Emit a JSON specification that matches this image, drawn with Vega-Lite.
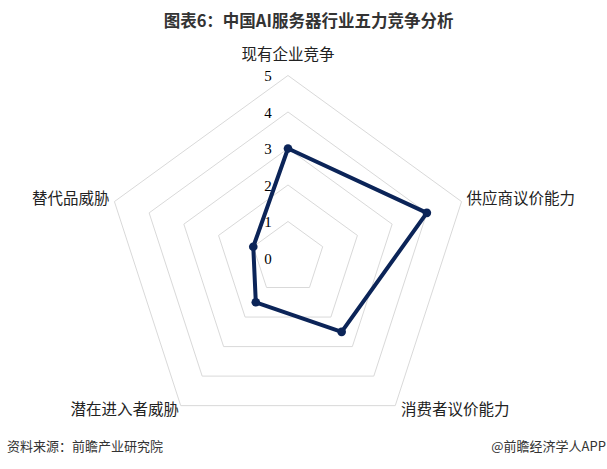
{
  "$schema": "https://vega.github.io/schema/vega-lite/v6.json",
  "width": 607,
  "height": 431,
  "autosize": {"type": "none"},
  "padding": {"top": 38, "left": 0, "right": 0, "bottom": 0},
  "background": "white",
  "title": {"text": "图表6：中国AI服务器行业五力竞争分析", "font": "Noto Sans CJK SC", "fontSize": 16.5, "fontWeight": "bold", "color": "#333333", "anchor": "middle", "dx": 5, "offset": 8},
  "config": {"view": {"stroke": null}},
  "datasets": {
    "forces": [
      {"axis": "现有企业竞争", "i": 0, "value": 3},
      {"axis": "供应商议价能力", "i": 1, "value": 4},
      {"axis": "消费者议价能力", "i": 2, "value": 2.5},
      {"axis": "潜在进入者威胁", "i": 3, "value": 1.5},
      {"axis": "替代品威胁", "i": 4, "value": 1}
    ],
    "grid": [
      {"level": 1, "i": 0}, {"level": 1, "i": 1}, {"level": 1, "i": 2}, {"level": 1, "i": 3}, {"level": 1, "i": 4},
      {"level": 2, "i": 0}, {"level": 2, "i": 1}, {"level": 2, "i": 2}, {"level": 2, "i": 3}, {"level": 2, "i": 4},
      {"level": 3, "i": 0}, {"level": 3, "i": 1}, {"level": 3, "i": 2}, {"level": 3, "i": 3}, {"level": 3, "i": 4},
      {"level": 4, "i": 0}, {"level": 4, "i": 1}, {"level": 4, "i": 2}, {"level": 4, "i": 3}, {"level": 4, "i": 4},
      {"level": 5, "i": 0}, {"level": 5, "i": 1}, {"level": 5, "i": 2}, {"level": 5, "i": 3}, {"level": 5, "i": 4}
    ],
    "ticks": [{"level": 0}, {"level": 1}, {"level": 2}, {"level": 3}, {"level": 4}, {"level": 5}]
  },
  "layer": [
    {
      "data": {"name": "grid"},
      "transform": [
        {"calculate": "datum.level*sin(datum.i*2*PI/5)", "as": "gx"},
        {"calculate": "datum.level*cos(datum.i*2*PI/5)", "as": "gy"}
      ],
      "mark": {"type": "line", "interpolate": "linear-closed", "color": "#d9d9d9", "strokeWidth": 1},
      "encoding": {
        "x": {"field": "gx", "type": "quantitative", "scale": {"domain": [-7.890, 8.740], "nice": false, "zero": false}, "axis": null},
        "y": {"field": "gy", "type": "quantitative", "scale": {"domain": [-5.781, 6.027], "nice": false, "zero": false}, "axis": null},
        "detail": {"field": "level", "type": "nominal"},
        "order": {"field": "i", "type": "quantitative"}
      }
    },
    {
      "data": {"name": "ticks"},
      "mark": {"type": "text", "font": "Liberation Serif", "fontSize": 15, "color": "#000000", "align": "center", "baseline": "middle", "dy": 1},
      "encoding": {
        "x": {"datum": -0.55, "type": "quantitative"},
        "y": {"field": "level", "type": "quantitative"},
        "text": {"field": "level", "type": "quantitative"}
      }
    },
    {
      "data": {"name": "forces"},
      "transform": [
        {"calculate": "datum.value*sin(datum.i*2*PI/5)", "as": "px"},
        {"calculate": "datum.value*cos(datum.i*2*PI/5)", "as": "py"}
      ],
      "layer": [
        {
          "mark": {"type": "line", "interpolate": "linear-closed", "color": "#0b2458", "strokeWidth": 4, "strokeJoin": "round"},
          "encoding": {
            "x": {"field": "px", "type": "quantitative"},
            "y": {"field": "py", "type": "quantitative"},
            "order": {"field": "i", "type": "quantitative"}
          }
        },
        {
          "mark": {"type": "point", "filled": true, "opacity": 1, "color": "#0b2458", "size": 75},
          "encoding": {
            "x": {"field": "px", "type": "quantitative"},
            "y": {"field": "py", "type": "quantitative"}
          }
        }
      ]
    },
    {
      "data": {"name": "forces"},
      "transform": [
        {"calculate": "datum.i==0 ? 5.56 : (datum.i==1 || datum.i==4 ? 5.23 : 5.08)", "as": "lr"},
        {"calculate": "datum.lr*sin(datum.i*2*PI/5)", "as": "lx"},
        {"calculate": "datum.lr*cos(datum.i*2*PI/5)", "as": "ly"}
      ],
      "layer": [
        {
          "transform": [{"filter": "datum.i==0"}],
          "mark": {"type": "text", "font": "Noto Sans CJK SC", "fontSize": 15.5, "color": "#222222", "align": "center", "baseline": "middle"},
          "encoding": {"x": {"field": "lx", "type": "quantitative"}, "y": {"field": "ly", "type": "quantitative"}, "text": {"field": "axis"}}
        },
        {
          "transform": [{"filter": "datum.i==1"}],
          "mark": {"type": "text", "font": "Noto Sans CJK SC", "fontSize": 15.5, "color": "#222222", "align": "left", "baseline": "middle", "dx": -3},
          "encoding": {"x": {"field": "lx", "type": "quantitative"}, "y": {"field": "ly", "type": "quantitative"}, "text": {"field": "axis"}}
        },
        {
          "transform": [{"filter": "datum.i==2"}],
          "mark": {"type": "text", "font": "Noto Sans CJK SC", "fontSize": 15.5, "color": "#222222", "align": "left", "baseline": "middle", "dx": 4, "dy": 2},
          "encoding": {"x": {"field": "lx", "type": "quantitative"}, "y": {"field": "ly", "type": "quantitative"}, "text": {"field": "axis"}}
        },
        {
          "transform": [{"filter": "datum.i==3"}],
          "mark": {"type": "text", "font": "Noto Sans CJK SC", "fontSize": 15.5, "color": "#222222", "align": "right", "baseline": "middle", "dx": 0, "dy": 2},
          "encoding": {"x": {"field": "lx", "type": "quantitative"}, "y": {"field": "ly", "type": "quantitative"}, "text": {"field": "axis"}}
        },
        {
          "transform": [{"filter": "datum.i==4"}],
          "mark": {"type": "text", "font": "Noto Sans CJK SC", "fontSize": 15.5, "color": "#222222", "align": "right", "baseline": "middle", "dx": 3},
          "encoding": {"x": {"field": "lx", "type": "quantitative"}, "y": {"field": "ly", "type": "quantitative"}, "text": {"field": "axis"}}
        }
      ]
    },
    {
      "data": {"values": [{"note": "资料来源：前瞻产业研究院"}]},
      "mark": {"type": "text", "font": "Noto Sans CJK SC", "fontSize": 13, "color": "#333333", "align": "left", "baseline": "middle"},
      "encoding": {"x": {"datum": -7.70, "type": "quantitative"}, "y": {"datum": -5.178, "type": "quantitative"}, "text": {"field": "note"}}
    },
    {
      "data": {"values": [{"note": "@前瞻经济学人APP"}]},
      "mark": {"type": "text", "font": "Noto Sans CJK SC", "fontSize": 13, "color": "#333333", "align": "right", "baseline": "middle"},
      "encoding": {"x": {"datum": 8.71, "type": "quantitative"}, "y": {"datum": -5.178, "type": "quantitative"}, "text": {"field": "note"}}
    }
  ]
}
